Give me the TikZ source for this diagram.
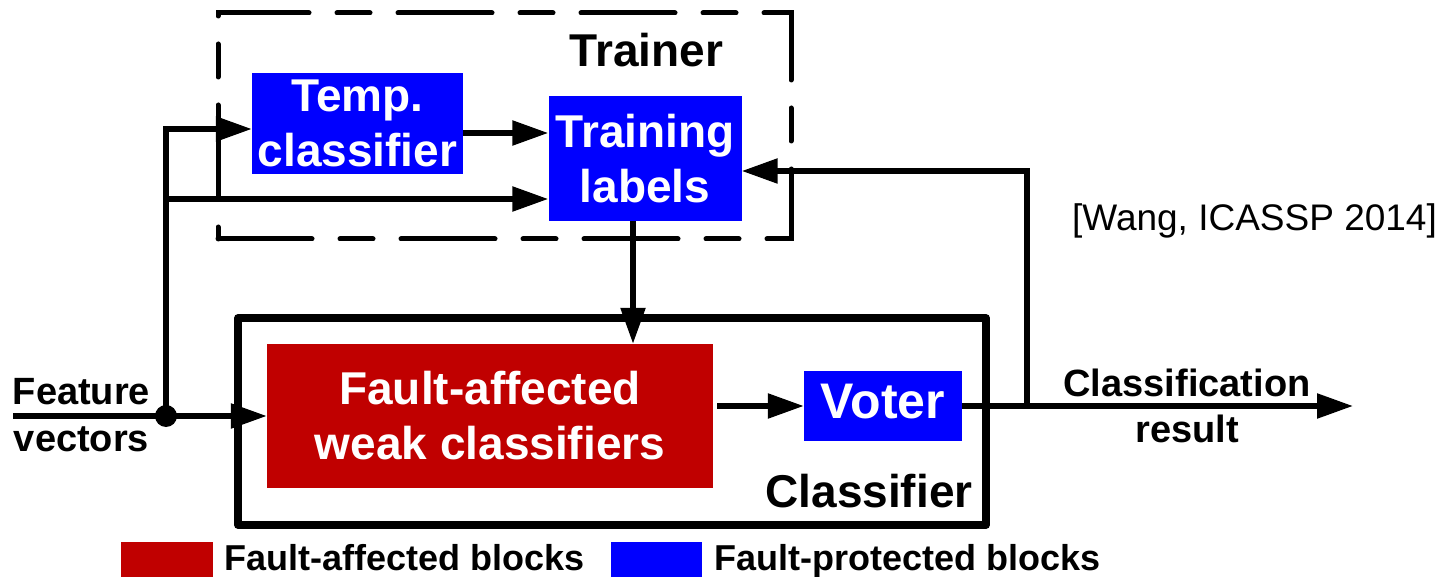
\documentclass[tikz,border=0pt]{standalone}
\usepackage{fontspec}
\setmainfont{Liberation Sans}
\usetikzlibrary{arrows.meta}
\definecolor{faultred}{RGB}{192,0,0}
\definecolor{safeblue}{RGB}{0,0,255}
\begin{document}
\begin{tikzpicture}[x=1pt,y=-1pt,
  conn/.style={line width=5.5pt},
  arr/.style={conn,-{Triangle[length=36pt,width=24pt]}},
  bigtxt/.style={font=\fontsize{46pt}{55pt}\selectfont\bfseries},
  midtxt/.style={font=\fontsize{38pt}{46.5pt}\selectfont\bfseries},
  legtxt/.style={font=\fontsize{36pt}{40pt}\selectfont\bfseries},
  blk/.style={bigtxt,text=white,align=center,inner sep=0pt},
  protected/.style={blk,fill=safeblue},
  affected/.style={blk,fill=faultred},
  trainerframe/.style={draw,line width=5pt,line cap=round,
    dash pattern=on 94pt off 28pt on 33pt off 28pt,inner sep=0pt},
  classframe/.style={draw,line width=7.5pt,line join=round,inner sep=0pt},
]
\useasboundingbox (0,0) rectangle (1440,577);

% frames
\node[trainerframe,minimum width=573pt,minimum height=226pt] (trainerbox) at (504.5,126) {};
\node[classframe,minimum width=748pt,minimum height=207pt] (classbox) at (612,421.5) {};
\node[bigtxt,anchor=base] (trainerlbl) at (646.5,67) {Trainer};
\node[bigtxt,anchor=base] (classlbl) at (869,507) {Classifier};

% blocks
\node[protected,minimum width=211pt,minimum height=101pt] (temp) at (357.5,123.5) {Temp.\\classifier};
\node[protected,minimum width=193pt,minimum height=125pt] (train) at (645,158.5) {Training\\labels};
\node[affected,minimum width=446pt,minimum height=144pt] (weak) at (490,416) {Fault-affected\\weak classifiers};
\node[protected,minimum width=158pt,minimum height=70pt,
      font=\fontsize{50pt}{55pt}\selectfont\bfseries,text height=24pt,text depth=0pt] (voter) at (883,406) {Voter};

% input side
\node[midtxt,align=center] (featlbl) at (81.5,415) {Feature\\vectors};
\coordinate (fin) at (13,416);
\coordinate (junc) at (166,416);
\coordinate (branch) at (166,199);
\draw[arr] (fin) -- (weak.west);
\draw[arr] (junc) |- ([yshift=-5.5pt]temp.west);
\draw[arr] (branch) -- (branch -| train.west);
\fill (junc) circle[radius=11pt];

% trainer internals
\coordinate (tout) at ([yshift=-9.5pt]temp.east);
\draw[arr] (tout) -- (tout -| train.west);
\coordinate (tdown) at ([xshift=-12pt]train.south);
\draw[arr] (tdown) -- (tdown |- weak.north);

% classifier internals and output
\coordinate (wout) at ([xshift=4pt]weak.east |- voter.west);
\draw[arr] (wout) -- (voter.west);
\coordinate (out) at (1353,406);
\coordinate (fb) at (1027,406);
\draw[arr] (voter.east) -- (out);
\draw[arr] (fb) |- ([yshift=-12.5pt]train.east);
\node[midtxt,align=center] (outlbl) at (1187,406) {Classification\\result};

% reference
\node[font=\fontsize{37pt}{40pt}\selectfont,anchor=base] (ref) at (1254.5,231) {[Wang, ICASSP 2014]};

% legend
\node[fill=faultred,minimum width=92pt,minimum height=35pt,inner sep=0pt] (legA) at (167,559.5) {};
\node[legtxt,anchor=base west,inner sep=0pt] (legAtxt) at (224,570) {Fault-affected blocks};
\node[fill=safeblue,minimum width=91pt,minimum height=35pt,inner sep=0pt] (legB) at (656.5,559.5) {};
\node[legtxt,anchor=base west,inner sep=0pt] (legBtxt) at (714,570) {Fault-protected blocks};
\end{tikzpicture}
\end{document}
